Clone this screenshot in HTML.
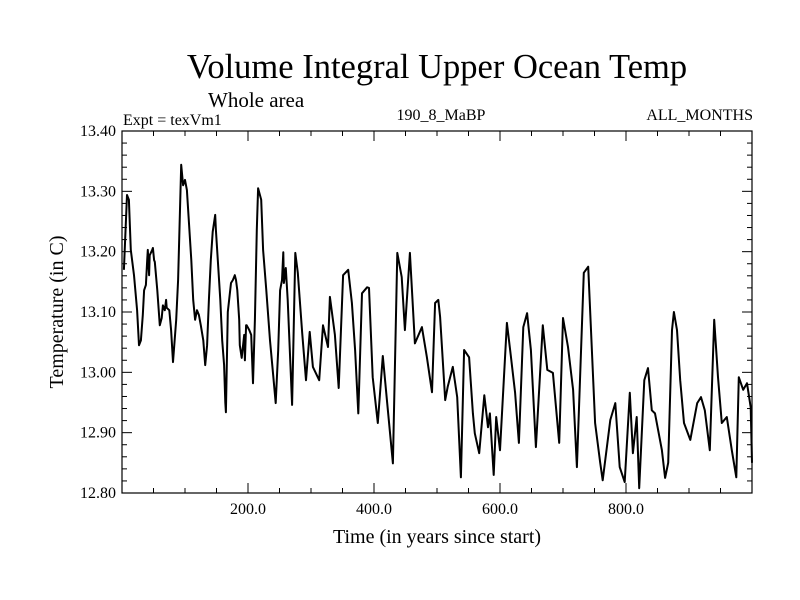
<!DOCTYPE html>
<html><head><meta charset="utf-8"><style>
html,body{margin:0;padding:0;background:#fff;}
svg{display:block;font-family:"Liberation Serif",serif;}
</style></head><body>
<svg id="chart" width="800" height="600">
<text x="437" y="78" font-size="34.5" text-anchor="middle">Volume Integral Upper Ocean Temp</text>
<text x="208" y="107" font-size="21">Whole area</text>
<text x="123" y="125" font-size="16">Expt = texVm1</text>
<text x="441" y="120" font-size="16" text-anchor="middle">190_8_MaBP</text>
<text x="753" y="120" font-size="16" text-anchor="end">ALL_MONTHS</text>
<text x="437" y="543" font-size="20" text-anchor="middle">Time (in years since start)</text>
<text transform="translate(63,312) rotate(-90)" font-size="20" text-anchor="middle">Temperature (in C)</text>
<g id="ticks"></g>
<path id="series" fill="none" stroke="#000" stroke-width="2" stroke-linejoin="round"></path>
<rect x="122" y="131" width="630" height="362" fill="none" stroke="#000" stroke-width="1.2"></rect>
</svg>
<script>
const years=[3,8,11,14,19,24,27,30,33,35,38,40,41,43,44,48,49,51,52,56,60,63,65,68,70,71,75,78,81,86,89,94,97,100,103,106,110,113,116,119,122,125,129,132,135,138,141,144,148,149,152,156,159,162,164,165,168,173,176,179,181,183,186,187,190,194,195,197,198,202,205,208,211,214,216,221,224,229,235,240,244,248,251,254,256,257,260,263,270,275,279,286,292,298,303,313,319,327,330,338,344,351,359,365,370,375,381,389,392,398,406,414,421,430,437,444,449,457,465,476,484,492,497,502,505,513,517,525,532,538,543,551,557,560,567,575,581,584,590,594,600,611,617,624,630,637,643,649,657,668,675,684,694,700,708,716,722,733,740,751,759,763,775,783,790,798,806,811,817,821,829,835,841,846,857,862,867,873,876,881,886,892,902,913,919,925,933,940,946,952,960,968,975,979,986,992,998,1000];
const temps=[13.170,13.294,13.286,13.203,13.161,13.103,13.045,13.053,13.095,13.136,13.145,13.186,13.203,13.161,13.194,13.203,13.206,13.186,13.183,13.136,13.078,13.090,13.111,13.103,13.120,13.107,13.103,13.070,13.017,13.087,13.153,13.344,13.310,13.319,13.302,13.252,13.186,13.120,13.087,13.103,13.095,13.078,13.053,13.012,13.045,13.120,13.186,13.233,13.261,13.236,13.186,13.120,13.053,13.012,12.950,12.934,13.100,13.148,13.153,13.161,13.153,13.136,13.087,13.045,13.024,13.062,13.020,13.078,13.078,13.070,13.062,12.982,13.087,13.236,13.305,13.286,13.203,13.136,13.053,12.995,12.949,13.037,13.136,13.153,13.199,13.148,13.173,13.120,12.946,13.198,13.165,13.065,12.987,13.067,13.009,12.987,13.078,13.042,13.125,13.062,12.974,13.161,13.170,13.115,13.037,12.932,13.131,13.141,13.140,12.992,12.916,13.027,12.949,12.849,13.198,13.158,13.070,13.198,13.048,13.075,13.025,12.967,13.115,13.120,13.092,12.954,12.976,13.009,12.959,12.826,13.037,13.025,12.932,12.899,12.866,12.962,12.909,12.932,12.830,12.926,12.871,13.082,13.029,12.966,12.883,13.075,13.098,13.037,12.876,13.078,13.004,12.999,12.883,13.090,13.042,12.971,12.843,13.165,13.175,12.916,12.850,12.821,12.921,12.949,12.843,12.818,12.966,12.866,12.926,12.808,12.987,13.007,12.937,12.932,12.871,12.825,12.850,13.070,13.100,13.070,12.987,12.916,12.888,12.949,12.959,12.937,12.871,13.087,12.992,12.916,12.926,12.871,12.826,12.992,12.971,12.982,12.942,12.850];
const xTickLabels=["200.0","400.0","600.0","800.0"];
const xTickValues=[200,400,600,800];
const yTickLabels=["12.80","12.90","13.00","13.10","13.20","13.30","13.40"];
const yTickValues=[12.8,12.9,13.0,13.1,13.2,13.3,13.4];

const X0=122,X1=752,Y0=493,Y1=131;
function xs(v){return X0+(v-0)/(1000-0)*(X1-X0);}
function ys(v){return Y0-(v-12.8)/(13.4-12.8)*(Y0-Y1);}
const NS='http://www.w3.org/2000/svg';
const g=document.getElementById('ticks');
function line(x1,y1,x2,y2,name){
  const l=document.createElementNS(NS,'line');
  l.setAttribute('x1',x1);l.setAttribute('y1',y1);l.setAttribute('x2',x2);l.setAttribute('y2',y2);
  l.setAttribute('stroke','#000');l.setAttribute('stroke-width','1');
  
  
  g.appendChild(l);
}
function text(x,y,s,anchor,name){
  const t=document.createElementNS(NS,'text');
  t.setAttribute('x',x);t.setAttribute('y',y);t.setAttribute('font-size','16');t.setAttribute('text-anchor',anchor);
  t.textContent=s;
  
  
  g.appendChild(t);
}
for(let v=0;v<=1000;v+=50){
  const x=xs(v);const major=(v%200===0);const L=major?10:5;
  line(x,Y0,x,Y0-L,'x-tick');
  line(x,Y1,x,Y1+L,'x-tick-top');
}
xTickValues.forEach((v,i)=>text(xs(v),Y0+21,xTickLabels[i],'middle','x-tick-label'));
for(let k=0;k<=30;k++){
  const v=12.8+k*0.02;const y=ys(v);const major=(k%5===0);const L=major?10:5;
  line(X0,y,X0+L,y,'y-tick');
  line(X1,y,X1-L,y,'y-tick-right');
}
yTickValues.forEach((v,i)=>text(X0-6,ys(v)+5,yTickLabels[i],'end','y-tick-label'));
let d='';
years.forEach((yr,i)=>{d+=(i?'L':'M')+xs(yr).toFixed(1)+' '+ys(temps[i]).toFixed(1);});
document.getElementById('series').setAttribute('d',d);
</script>
</body></html>
